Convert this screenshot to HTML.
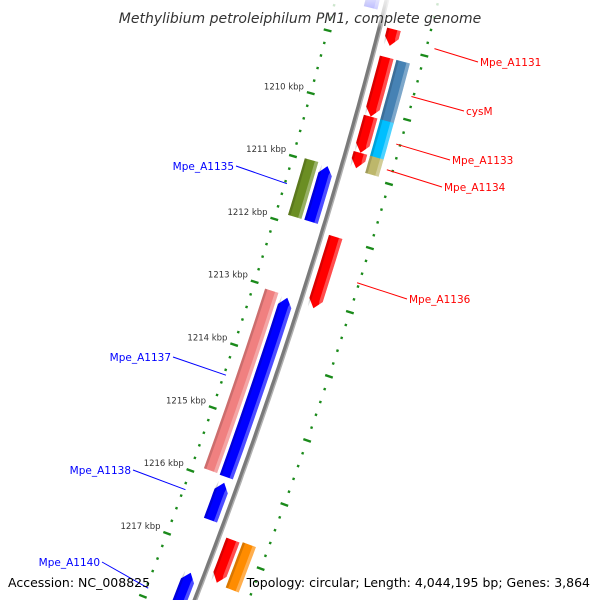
<!DOCTYPE html>
<html><head><meta charset="utf-8"><style>
body{margin:0;background:#fff;width:600px;height:600px;overflow:hidden}
svg{display:block;font-family:"DejaVu Sans","Liberation Sans",sans-serif}
</style></head><body>
<svg id="map" width="600" height="600" viewBox="0 0 600 600" xmlns="http://www.w3.org/2000/svg">
<defs>
<clipPath id="frame"><rect x="0" y="0" width="600" height="600"/></clipPath>
<linearGradient id="fadeTop" x1="0" y1="0" x2="0" y2="1"><stop offset="0" stop-color="#fff" stop-opacity="0.85"/><stop offset="0.7" stop-color="#fff" stop-opacity="0.6"/><stop offset="1" stop-color="#fff" stop-opacity="0"/></linearGradient>
</defs>
<g clip-path="url(#frame)">
<g id="ruler"></g>
<g id="backbone-g"></g>
<g id="genes"></g>
<g id="labels"></g>
</g>
<rect x="0" y="0" width="600" height="28" fill="url(#fadeTop)"/>
<text x="300" y="23" text-anchor="middle" font-size="14" font-style="italic" fill="#333">Methylibium petroleiphilum PM1, complete genome</text>
<text x="8" y="587" font-size="12.5" fill="#000">Accession: NC_008825</text>
<text x="590" y="587" font-size="12.5" fill="#000" text-anchor="end">Topology: circular; Length: 4,044,195 bp; Genes: 3,864</text>
</svg>
<script>
// data (kbp positions)
const geneNames = ["top-blue","top-red","Mpe_A1131","cysM","A1132b","Mpe_A1133","A1133b","Mpe_A1134","Mpe_A1135","Mpe_A1135b","Mpe_A1136","Mpe_A1137","Mpe_A1137b","Mpe_A1138","A1139r","A1139o","Mpe_A1140"];
const geneStart = [1208.2,1208.73,1209.17,1209.17,1210.10,1210.10,1210.67,1210.67,1211.0,1210.98,1211.99,1213.08,1213.05,1216.0,1216.75,1216.73,1217.42];
const geneEnd   = [1208.5,1208.99,1210.10,1210.12,1210.67,1210.69,1210.91,1210.94,1211.88,1211.88,1213.11,1215.91,1215.90,1216.59,1217.42,1217.44,1218.3];
const geneStrand= [-1,1,1,1,1,1,1,1,-1,-1,1,-1,-1,-1,1,1,-1];
const geneLane  = [1,1,1,2,1,2,1,2,1,2,1,1,2,1,1,2,1];
const geneColor = ["#0000ff","#ff0000","#ff0000","#4682b4","#ff0000","#00bfff","#ff0000","#bdb76b","#0000ff","#6b8e23","#ff0000","#0000ff","#f08080","#0000ff","#ff0000","#ff8c00","#0000ff"];
const tickLabels = [1210,1211,1212,1213,1214,1215,1216,1217];
const labelText = ["Mpe_A1131","cysM","Mpe_A1133","Mpe_A1134","Mpe_A1136","Mpe_A1135","Mpe_A1137","Mpe_A1138","Mpe_A1140"];
const labelGene = [1,3,5,7,10,9,12,13,16];
const labelX = [480,466,452,444,409,234,171,131,100];
const labelY = [66,115,164,191,303,170,361,474,566];
const labelRadius = [58,48,46,44,48,-48,-48,-48,-48];

const NS="http://www.w3.org/2000/svg";
const bb=-0.2514, cc=-0.000114;
function by(p){return 106.5+(p-1210)*63.5;}
function pt(p,r){const y=by(p);const x=387+bb*y+cc*y*y;const d=bb+2*cc*y;const L=Math.sqrt(1+d*d);const nx=1/L,ny=-d/L;return [x+r*nx,y+r*ny];}
function mk(tag,attrs,parent){const e=document.createElementNS(NS,tag);for(const k in attrs)e.setAttribute(k,attrs[k]);parent.appendChild(e);return e;}

// backbone
const bg=document.getElementById('backbone-g');
let d1="",d2="";
for(let p=1207.5;p<=1218.4;p+=0.1){const a=pt(p,-0.5),b=pt(p,1.5);d1+=(d1?"L":"M")+a[0].toFixed(1)+","+a[1].toFixed(1);d2+=(d2?"L":"M")+b[0].toFixed(1)+","+b[1].toFixed(1);}
const bl=mk('path',{d:d1,stroke:"#7a7a7a","stroke-width":4,fill:"none"},bg);


const bh=mk('path',{d:d2,stroke:"#b0b0b0","stroke-width":1.5,fill:"none"},bg);



// ruler ticks
const rg=document.getElementById('ruler');
for(let i=0;i<=55;i++){
  const p=1207.6+i*0.2; const major=Math.abs(p-Math.round(p))<0.01;
  [-50,50].forEach(r=>{
    const a=pt(p,r-(major?4:1.2)),b=pt(p,r+(major?4:1.2));
    if(a[1]>600||b[1]>600)return;
    const t=mk('line',{x1:a[0],y1:a[1],x2:b[0],y2:b[1],stroke:"#1a8a1a","stroke-width":2.4},rg);
    
    
  });
}
tickLabels.forEach(k=>{
  const a=pt(k,-57);
  const t=mk('text',{x:a[0],y:a[1]-2,"font-size":8.5,"text-anchor":"end",fill:"#333"},rg);
  t.textContent=k+" kbp";
  
  
});

// genes
const gg=document.getElementById('genes');
function geneShape(p1,p2,strand,r0,r1,arrow){
  const head=arrow?0.13:0; const rc=(r0+r1)/2; const pts=[];
  if(strand>0){const e=Math.max(p1,p2-head);
    for(let k=0;k<=6;k++)pts.push(pt(p1+(e-p1)*k/6,r0));
    if(arrow)pts.push(pt(p2,rc));
    for(let k=6;k>=0;k--)pts.push(pt(p1+(e-p1)*k/6,r1));
  } else {const s=Math.min(p2,p1+head);
    if(arrow)pts.push(pt(p1,rc));
    for(let k=0;k<=6;k++)pts.push(pt(s+(p2-s)*k/6,r1));
    for(let k=6;k>=0;k--)pts.push(pt(s+(p2-s)*k/6,r0));
  }
  return pts.map(q=>q[0].toFixed(1)+","+q[1].toFixed(1)).join(" ");
}
geneNames.forEach((n,i)=>{
  const s=geneStrand[i]; const rc=s*(geneLane[i]==1?14:31);
  const r0=rc-7,r1=rc+7; const arrow=geneLane[i]==1;
  const g=mk('g',{},gg);
  
  
  mk('polygon',{points:geneShape(geneStart[i],geneEnd[i],s,r0,r1,arrow),fill:geneColor[i]},g);
  mk('polygon',{points:geneShape(geneStart[i],geneEnd[i],s,r1-3.5,r1,arrow),fill:"#fff","fill-opacity":0.3},g);
  mk('polygon',{points:geneShape(geneStart[i],geneEnd[i],s,r0,r0+2.5,arrow),fill:"#000","fill-opacity":0.15},g);
});

// labels
const lg=document.getElementById('labels');
labelText.forEach((t,i)=>{
  const gi=labelGene[i]; const s=geneStrand[gi];
  const col=s>0?"#ff0000":"#0000ff";
  const mid=(geneStart[gi]+geneEnd[gi])/2;
  const e=pt(mid,labelRadius[i]);
  const sx=s>0?labelX[i]-2:labelX[i]+2;
  const ln=mk('line',{x1:sx,y1:labelY[i]-4,x2:e[0],y2:e[1],stroke:col,"stroke-width":1},lg);
  
  
  const tx=mk('text',{x:labelX[i],y:labelY[i],"font-size":10.5,fill:col,"text-anchor":s>0?"start":"end"},lg);
  tx.textContent=t;
  
  
});
</script>
</body></html>
